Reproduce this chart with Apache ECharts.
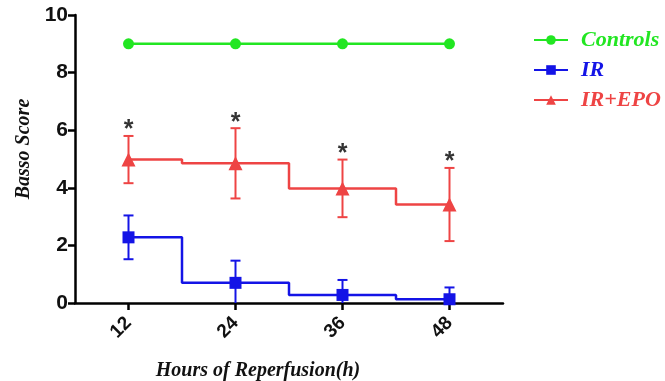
<!DOCTYPE html>
<html>
<head>
<meta charset="utf-8">
<script src="https://cdn.jsdelivr.net/npm/echarts@6/dist/echarts.min.js"></script>
<style>
  html, body { margin: 0; padding: 0; background: #fff; }
  #chart { width: 665px; height: 381px; }
</style>
</head>
<body>
<div id="chart"></div>
<script>
// data
var hours = [12, 24, 36, 48]
var controls = [9, 9, 9, 9]
var ir = [2.28, 0.70, 0.28, 0.13]
var irErr = [0.76, 0.77, 0.52, 0.41]
var epo = [4.98, 4.85, 3.98, 3.42]
var epoErr = [0.82, 1.22, 1.0, 1.27]
var starred = [true, true, true, true] // IR+EPO vs IR

var GREEN = '#22e622'
var BLUE = '#1414e6'
var RED = '#ee4444'

var myChart = echarts.init(document.getElementById('chart'))

function pairs(ys) {
  return hours.map(function (h, i) { return [h, ys[i]] })
}

// error bars as custom series
function errSeries(name, ys, errs, color) {
  return {
    type: 'custom',
    name: name,
    z: 3,
    clip: true,
    data: hours.map(function (h, i) { return [h, ys[i] - errs[i], ys[i] + errs[i]] }),
    renderItem: function (params, api) {
      var lo = api.coord([api.value(0), api.value(1)])
      var hi = api.coord([api.value(0), api.value(2)])
      var w = 5
      var st = { stroke: color, lineWidth: 2 }
      return {
        type: 'group',
        children: [
          { type: 'line', shape: { x1: hi[0], y1: hi[1], x2: lo[0], y2: lo[1] }, style: st },
          { type: 'line', shape: { x1: hi[0] - w, y1: hi[1], x2: hi[0] + w, y2: hi[1] }, style: st },
          { type: 'line', shape: { x1: lo[0] - w, y1: lo[1], x2: lo[0] + w, y2: lo[1] }, style: st },
        ],
      }
    },
  }
}

var titleFont = { fontFamily: 'Liberation Serif', fontStyle: 'italic', fontWeight: 'bold', fontSize: 20, color: '#111' }

var option = {
  backgroundColor: '#fff',
  animation: false,
  grid: { left: 75, right: 162, top: 15, bottom: 78, outerBoundsMode: 'none', containLabel: false },
  legend: {
    orient: 'vertical',
    left: 528,
    top: 24,
    itemWidth: 34,
    itemHeight: 12,
    itemGap: 8,
    textStyle: {
      fontFamily: 'Liberation Serif',
      fontStyle: 'italic',
      fontWeight: 'bold',
      fontSize: 22,
      padding: [0, 0, 0, 8],
    },
    data: [
      { name: 'Controls', textStyle: { color: GREEN } },
      { name: 'IR', textStyle: { color: BLUE } },
      { name: 'IR+EPO', textStyle: { color: RED } },
    ],
  },
  xAxis: {
    type: 'value',
    min: 6,
    max: 54,
    name: 'Hours of Reperfusion(h)',
    nameLocation: 'middle',
    nameGap: 58,
    nameTextStyle: Object.assign({}, titleFont, { padding: [0, 62, 0, 0] }),
    splitLine: { show: false },
    axisLine: { onZero: false, lineStyle: { color: '#000', width: 2.5 } },
    axisTick: { show: true, customValues: hours, length: 7, lineStyle: { color: '#000', width: 2.5 } },
    axisLabel: {
      customValues: hours,
      rotate: 45,
      margin: 17,
      fontFamily: 'Liberation Sans',
      fontWeight: 'bold',
      fontSize: 19,
      color: '#111',
    },
  },
  yAxis: {
    type: 'value',
    min: 0,
    max: 10,
    interval: 2,
    name: 'Basso Score',
    nameLocation: 'middle',
    nameGap: 40,
    nameRotate: 90,
    nameTextStyle: Object.assign({}, titleFont, { padding: [0, 0, 0, 20] }),
    splitLine: { show: false },
    axisLine: { show: true, lineStyle: { color: '#000', width: 2.5 } },
    axisTick: { show: true, length: 7, lineStyle: { color: '#000', width: 2.5 } },
    axisLabel: { margin: 7, fontFamily: 'Liberation Sans', fontWeight: 'bold', fontSize: 21, color: '#111' },
  },
  series: [
    {
      name: 'Controls',
      type: 'line',
      data: pairs(controls),
      symbol: 'circle',
      symbolSize: 11,
      lineStyle: { color: GREEN, width: 2.5 },
      itemStyle: { color: GREEN },
      z: 4,
    },
    {
      name: 'IR',
      type: 'line',
      step: 'middle',
      data: pairs(ir),
      symbol: 'rect',
      symbolSize: 12,
      lineStyle: { color: BLUE, width: 2.5 },
      itemStyle: { color: BLUE },
      z: 4,
    },
    {
      name: 'IR+EPO',
      type: 'line',
      step: 'middle',
      data: pairs(epo),
      symbol: 'triangle',
      symbolSize: 14,
      lineStyle: { color: RED, width: 2.5 },
      itemStyle: { color: RED },
      z: 4,
    },
    errSeries('IR', ir, irErr, BLUE),
    errSeries('IR+EPO', epo, epoErr, RED),
    // significance marks above the IR+EPO bars
    {
      type: 'scatter',
      silent: true,
      symbolSize: 0,
      data: hours.map(function (h, i) { return starred[i] ? [h, epo[i] + epoErr[i]] : null }).filter(Boolean),
      label: {
        show: true,
        formatter: '*',
        position: 'top',
        distance: -7,
        color: '#000',
        fontFamily: 'Liberation Sans',
        fontWeight: 'bold',
        fontSize: 25,
      },
    },
  ],
}

myChart.setOption(option)
</script>
</body>
</html>
